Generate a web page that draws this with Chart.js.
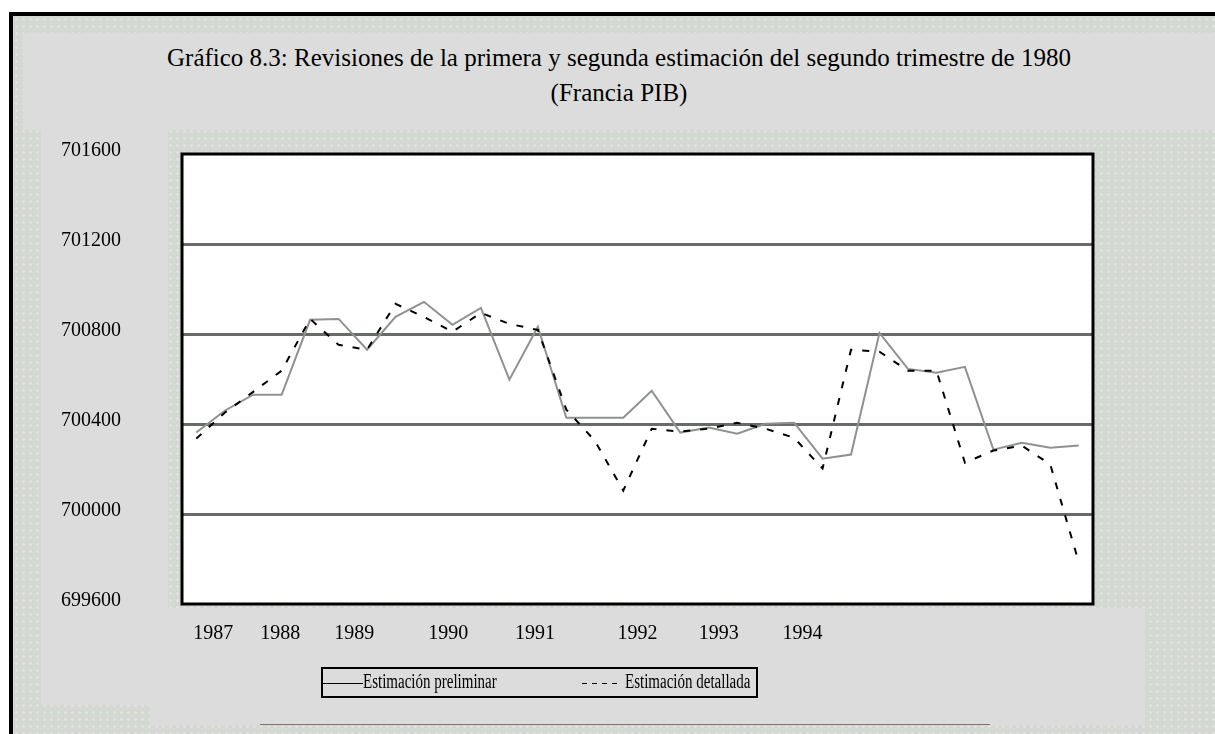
<!DOCTYPE html>
<html lang="es">
<head>
<meta charset="utf-8">
<title>Gráfico 8.3</title>
<script src="https://cdn.jsdelivr.net/npm/chart.js@4/dist/chart.umd.min.js"></script>
<style>
  html, body { margin: 0; padding: 0; background: #fff; }
  body { width: 1215px; height: 734px; position: relative; overflow: hidden; font-family: "Liberation Serif", "Times New Roman", serif; }
  .textura {
    position: absolute; left: 9px; top: 12px; width: 1220px; height: 730px;
    border-left: 4px solid #000; border-top: 4px solid #000;
    background-color: #d3d8d3;
    background-image: radial-gradient(circle, #e4e0e4 1px, transparent 1.6px);
    background-size: 7px 7px;
  }
  .caja { position: absolute; background: #dcdcdc; }
  #linea { position: absolute; left: 260px; top: 724px; width: 730px; height: 1px; background: #7a726e; }
  #titulo {
    position: absolute; left: 0; top: 40px; width: 1238px;
    text-align: center; font-size: 25px; line-height: 35px; color: #000;
  }
  #grafico { position: absolute; left: 0; top: 0; }
</style>
</head>
<body>
<div class="textura"></div>
<div class="caja" style="left:23px;top:33px;width:1192px;height:97px"></div>
<div class="caja" style="left:41px;top:130px;width:127px;height:575px"></div>
<div class="caja" style="left:150px;top:608px;width:995px;height:117px"></div>
<div id="linea"></div>
<div id="titulo">Gráfico 8.3: Revisiones de la primera y segunda estimación del segundo trimestre de 1980<br>(Francia PIB)</div>
<canvas id="grafico" width="1215" height="734"></canvas>

<script>
// trimestres 1987-1994
const trimestres = [
  '1987-T1', '1987-T2', '1987-T3', '1987-T4',
  '1988-T1', '1988-T2', '1988-T3', '1988-T4',
  '1989-T1', '1989-T2', '1989-T3', '1989-T4',
  '1990-T1', '1990-T2', '1990-T3', '1990-T4',
  '1991-T1', '1991-T2', '1991-T3', '1991-T4',
  '1992-T1', '1992-T2', '1992-T3', '1992-T4',
  '1993-T1', '1993-T2', '1993-T3', '1993-T4',
  '1994-T1', '1994-T2', '1994-T3', '1994-T4'
];

let preliminar = [
  700362, 700459, 700530, 700530, 700863, 700867, 700730, 700876,
  700943, 700841, 700916, 700597, 700832, 700428, 700428, 700428,
  700548, 700362, 700384, 700357, 700401, 700406, 700246, 700264,
  700805, 700645, 700628, 700654, 700286, 700317, 700295, 700304
];

let detallada = [
  700335, 700450, 700543, 700637, 700867, 700752, 700730, 700934,
  700876, 700810, 700894, 700845, 700818, 700464, 700326, 700104,
  700379, 700366, 700379, 700406, 700379, 700339, 700202, 700730,
  700721, 700637, 700637, 700228, 700282, 700304, 700220, 699785
];

// etiquetas del eje x y donde caen (en trimestres)
const anios = ['1987', '1988', '1989', '1990', '1991', '1992', '1993', '1994'];
const marcasAnios = [0.6, 2.95, 5.55, 8.85, 11.9, 15.5, 18.35, 21.3];

// eje y
const yMin = 699600;
const yMax = 701600;
const yPaso = 400;

Chart.defaults.font.family = '"Liberation Serif", "Times New Roman", serif';
Chart.defaults.color = '#000';

// fondo blanco y marco negro del area del grafico
const marcoArea = {
  id: 'marcoArea',
  beforeDraw(chart) {
    const { ctx, chartArea: a } = chart;
    ctx.save();
    ctx.fillStyle = '#fff';
    ctx.fillRect(a.left, a.top, a.right - a.left, a.bottom - a.top);
    ctx.restore();
  },
  afterDraw(chart) {
    const { ctx, chartArea: a } = chart;
    ctx.save();
    ctx.strokeStyle = '#000';
    ctx.lineWidth = 3;
    ctx.strokeRect(a.left, a.top, a.right - a.left, a.bottom - a.top);
    ctx.restore();
  }
};

// leyenda con recuadro, como en el original
const leyendaRecuadro = {
  id: 'leyendaRecuadro',
  afterDraw(chart) {
    const ctx = chart.ctx;
    const sets = chart.data.datasets;
    const yc = 683;
    ctx.save();
    ctx.strokeStyle = '#000';
    ctx.lineWidth = 2;
    ctx.strokeRect(322, 668, 435, 29);

    ctx.lineWidth = 1;
    ctx.beginPath();
    ctx.moveTo(323, yc + 0.5);
    ctx.lineTo(363, yc + 0.5);
    ctx.stroke();

    ctx.setLineDash([5, 5]);
    ctx.beginPath();
    ctx.moveTo(582, yc + 0.5);
    ctx.lineTo(620, yc + 0.5);
    ctx.stroke();
    ctx.setLineDash([]);

    ctx.fillStyle = '#000';
    ctx.font = '20px "Liberation Serif"';
    ctx.textBaseline = 'middle';
    [[363, sets[0].label], [625, sets[1].label]].forEach(([x, txt]) => {
      ctx.save();
      ctx.translate(x, yc);
      ctx.scale(0.75, 1);
      ctx.fillText(txt, 0, 0);
      ctx.restore();
    });
    ctx.restore();
  }
};

new Chart(document.getElementById('grafico'), {
  type: 'line',
  data: {
    labels: trimestres,
    datasets: [
      {
        label: 'Estimación preliminar',
        data: preliminar,
        borderColor: '#8e928e',
        borderWidth: 2,
        pointRadius: 0,
        tension: 0,
        order: 2
      },
      {
        label: 'Estimación detallada',
        data: detallada,
        borderColor: '#000',
        borderWidth: 2,
        borderDash: [7, 10],
        pointRadius: 0,
        tension: 0,
        order: 1
      }
    ]
  },
  options: {
    responsive: false,
    animation: false,
    layout: { padding: { left: 0, top: 154, right: 122, bottom: 70 } },
    plugins: {
      legend: { display: false },
      title: { display: false },
      tooltip: { enabled: false }
    },
    scales: {
      x: {
        type: 'category',
        display: false,
        offset: true
      },
      anios: {
        type: 'linear',
        position: 'bottom',
        min: -0.5,
        max: 31.5,
        grid: { display: false, drawTicks: false },
        border: { display: false },
        afterBuildTicks: (eje) => {
          eje.ticks = marcasAnios.map(v => ({ value: v }));
        },
        ticks: {
          autoSkip: false,
          maxRotation: 0,
          padding: 18,
          font: { size: 20 },
          callback: (v, i) => anios[i]
        }
      },
      y: {
        min: yMin,
        max: yMax,
        grid: {
          drawTicks: false,
          lineWidth: 3,
          color: (c) => (c.tick && c.tick.value > yMin && c.tick.value < yMax) ? '#686b67' : 'rgba(0,0,0,0)'
        },
        border: { display: false },
        ticks: {
          stepSize: yPaso,
          padding: 61,
          labelOffset: -3,
          font: { size: 20 },
          callback: (v) => String(v)
        }
      }
    }
  },
  plugins: [marcoArea, leyendaRecuadro]
});
</script>
</body>
</html>
